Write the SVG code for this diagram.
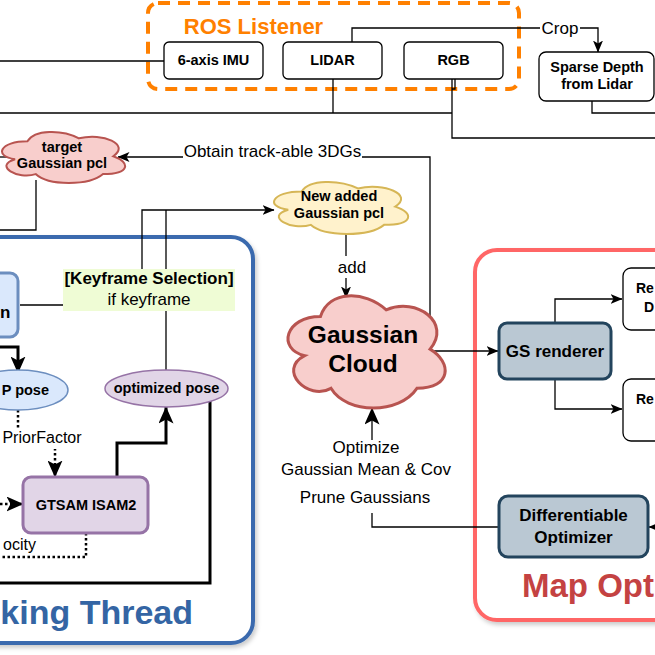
<svg xmlns="http://www.w3.org/2000/svg" width="655" height="655" viewBox="0 0 655 655">
<style>
  .t{font-family:"Liberation Sans",Arial,sans-serif;}
  .b{font-family:"Liberation Sans",Arial,sans-serif;font-weight:bold;}
  .ln{fill:none;stroke:#000;stroke-width:1.3;}
  .thick{fill:none;stroke:#000;stroke-width:3;}
  .dot{fill:none;stroke:#000;stroke-width:2.5;stroke-dasharray:2.5 2.5;}
  .box{fill:#fff;stroke:#000;stroke-width:1.3;}
  .cloudp{vector-effect:non-scaling-stroke;}
</style>
<defs>
  <marker id="a" markerUnits="userSpaceOnUse" markerWidth="12" markerHeight="10" refX="11.5" refY="5" orient="auto">
    <path d="M0,0 L12,5 L0,10 L3,5 Z" fill="#000"/>
  </marker>
  <marker id="A" markerUnits="userSpaceOnUse" markerWidth="17" markerHeight="15" refX="16.5" refY="7.5" orient="auto">
    <path d="M0,0 L17,7.5 L0,15 L4,7.5 Z" fill="#000"/>
  </marker>
  <filter id="sh" x="-10%" y="-10%" width="130%" height="130%">
    <feDropShadow dx="2" dy="3" stdDeviation="2" flood-color="#000" flood-opacity="0.2"/>
  </filter>
</defs>
<rect width="655" height="655" fill="#fff"/>

<!-- containers -->
<g id="tracking-thread">
  <rect x="-30" y="237" width="283" height="406" rx="22" fill="#fff" stroke="#3b6bae" stroke-width="4" filter="url(#sh)"/>
  <text class="b" x="193" y="624" font-size="34" fill="#3465a4" text-anchor="end">king Thread</text>
</g>
<g id="map-opt">
  <rect x="475" y="250" width="240" height="370" rx="22" fill="#fff" stroke="#ff6666" stroke-width="4" filter="url(#sh)"/>
  <text class="b" x="522" y="597" font-size="33" fill="#c44242">Map Opt</text>
</g>
<g id="ros-listener">
  <rect x="148" y="3" width="371" height="86" rx="10" fill="none" stroke="#ff8000" stroke-width="4" stroke-dasharray="12 8"/>
  <text class="b" x="253.5" y="34" font-size="22" fill="#ff8000" text-anchor="middle">ROS Listener</text>
</g>

<!-- connectors -->
<g id="connectors">
  <path class="ln" d="M0,61 H164"/>
  <path class="ln" d="M0,113 H452"/>
  <path class="ln" d="M333,79 V113"/>
  <path class="ln" d="M452,79 V138 H655"/>
  <path class="ln" d="M455,79 V89 H452"/>
  <path class="ln" d="M592,101 V113 H655"/>
  <path class="ln" d="M352,42 V28 H598 V52" marker-end="url(#a)"/>
  <path class="ln" d="M0,157 H8"/>
  <path class="ln" d="M36,180 V230 H0"/>
  <path class="ln" d="M430,318 V157 H118" marker-end="url(#a)"/>
  <path class="ln" d="M20,305 H63"/>
  <path class="ln" d="M142,270 V210 H274" marker-end="url(#a)"/>
  <path class="ln" d="M166,370 V210"/>
  <path class="ln" d="M346,234 V298" marker-end="url(#a)"/>
  <path class="ln" d="M433,351 H498" marker-end="url(#a)"/>
  <path class="ln" d="M555,323 V299 H622" marker-end="url(#a)"/>
  <path class="ln" d="M555,379 V409 H622" marker-end="url(#a)"/>
  <path class="ln" d="M660,527 H649" marker-end="url(#a)"/>
  <path class="ln" d="M499,527 H372 V513"/>
  <path class="ln" d="M372,440 V408" marker-end="url(#A)"/>
  <path class="thick" d="M0,347 H18 V373" marker-end="url(#A)"/>
  <path class="dot" d="M18,410 V438 H55 V477" marker-end="url(#A)"/>
  <path class="dot" d="M0,504 H23" marker-end="url(#A)"/>
  <path class="dot" d="M86,533 V557 H0"/>
  <path class="thick" d="M117,477 V443 H166 V407" marker-end="url(#A)"/>
  <path class="thick" d="M210,401 V583 H0"/>
  <!-- labels on connectors -->
  <rect x="540" y="19" width="40" height="18" fill="#fff"/>
  <text class="t" x="560" y="34" font-size="17" text-anchor="middle">Crop</text>
  <rect x="183" y="142" width="179" height="20" fill="#fff"/>
  <text class="t" x="272.5" y="157" font-size="17" text-anchor="middle">Obtain track-able 3DGs</text>
  <rect x="335" y="256" width="35" height="22" fill="#fff"/>
  <text class="t" x="352" y="273" font-size="17" text-anchor="middle">add</text>
  <rect x="63" y="269" width="172" height="42" fill="#effcd5"/>
  <text class="b" x="149" y="284" font-size="17" text-anchor="middle">[Keyframe Selection]</text>
  <text class="t" x="149" y="305" font-size="17" text-anchor="middle">if keyframe</text>
  <rect x="3" y="428" width="79" height="21" fill="#fff"/>
  <text class="t" x="42" y="443" font-size="16" text-anchor="middle">PriorFactor</text>
  <text class="t" x="36" y="550" font-size="16" text-anchor="end">ocity</text>
  <text class="t" x="366" y="453" font-size="17" text-anchor="middle">Optimize</text>
  <text class="t" x="366" y="475" font-size="17" text-anchor="middle">Gaussian Mean &amp; Cov</text>
  <text class="t" x="365" y="503" font-size="17" text-anchor="middle">Prune Gaussians</text>
</g>

<!-- nodes -->
<g id="imu">
  <rect class="box" x="164" y="42" width="99" height="37" rx="5"/>
  <text class="b" x="213.5" y="65" font-size="14.5" text-anchor="middle">6-axis IMU</text>
</g>
<g id="lidar">
  <rect class="box" x="283" y="42" width="99" height="37" rx="5"/>
  <text class="b" x="332.5" y="65" font-size="14.5" text-anchor="middle">LIDAR</text>
</g>
<g id="rgb">
  <rect class="box" x="404" y="42" width="99" height="37" rx="5"/>
  <text class="b" x="453.5" y="65" font-size="14.5" text-anchor="middle">RGB</text>
</g>
<g id="sparse-depth">
  <rect class="box" x="539" y="52" width="115" height="49" rx="7"/>
  <text class="b" x="597" y="72" font-size="14.5" text-anchor="middle">Sparse Depth</text>
  <text class="b" x="597" y="89" font-size="14.5" text-anchor="middle">from Lidar</text>
</g>
<g id="target-pcl">
  <path class="cloudp" transform="translate(-6.9,126.4) scale(1.374,0.596)" d="M25 25 C5 25 0 50 16 55 C0 66 18 90 31 80 C40 100 70 100 80 80 C100 80 100 60 87.5 50 C100 30 80 10 62.5 20 C50 5 30 5 25 25 Z" fill="#f8cecc" stroke="#b85450" stroke-width="2"/>
  <text class="b" x="62" y="152" font-size="14.5" text-anchor="middle">target</text>
  <text class="b" x="62" y="168" font-size="14.5" text-anchor="middle">Gaussian pcl</text>
</g>
<g id="new-pcl">
  <path class="cloudp" transform="translate(264.3,176.3) scale(1.497,0.607)" d="M25 25 C5 25 0 50 16 55 C0 66 18 90 31 80 C40 100 70 100 80 80 C100 80 100 60 87.5 50 C100 30 80 10 62.5 20 C50 5 30 5 25 25 Z" fill="#fff2cc" stroke="#d6b656" stroke-width="2"/>
  <text class="b" x="339" y="201" font-size="14.5" text-anchor="middle">New added</text>
  <text class="b" x="339" y="218" font-size="14.5" text-anchor="middle">Gaussian pcl</text>
</g>
<g id="gaussian-cloud">
  <path class="cloudp" transform="translate(276.6,283.7) scale(1.754,1.308)" d="M25 25 C5 25 0 50 16 55 C0 66 18 90 31 80 C40 100 70 100 80 80 C100 80 100 60 87.5 50 C100 30 80 10 62.5 20 C50 5 30 5 25 25 Z" fill="#f8cecc" stroke="#b85450" stroke-width="3"/>
  <text class="b" x="363" y="343" font-size="24.5" text-anchor="middle">Gaussian</text>
  <text class="b" x="363" y="372" font-size="24.5" text-anchor="middle">Cloud</text>
</g>
<g id="left-node">
  <rect x="-30" y="273" width="48" height="64" rx="8" fill="#dae8fc" stroke="#6c8ebf" stroke-width="3"/>
  <text class="b" x="0" y="318" font-size="17">n</text>
</g>
<g id="icp-pose">
  <ellipse cx="18" cy="390" rx="50" ry="20" fill="#dae8fc" stroke="#6c8ebf" stroke-width="1.5"/>
  <text class="b" x="49" y="395" font-size="14.5" text-anchor="end">P pose</text>
</g>
<g id="optimized-pose">
  <ellipse cx="166.5" cy="388.5" rx="61.5" ry="18.5" fill="#e1d5e7" stroke="#9673a6" stroke-width="1.5"/>
  <text class="b" x="166.5" y="393" font-size="14.5" text-anchor="middle">optimized pose</text>
</g>
<g id="gtsam">
  <rect x="23" y="477" width="125" height="56" rx="8" fill="#e1d5e7" stroke="#9673a6" stroke-width="3"/>
  <text class="b" x="86" y="510" font-size="14.5" text-anchor="middle">GTSAM ISAM2</text>
</g>
<g id="gs-renderer">
  <rect x="499" y="323" width="112" height="56" rx="8" fill="#bac8d3" stroke="#23445d" stroke-width="3"/>
  <text class="b" x="555" y="357" font-size="17" text-anchor="middle">GS renderer</text>
</g>
<g id="diff-optimizer">
  <rect x="499" y="496" width="149" height="61" rx="9" fill="#bac8d3" stroke="#23445d" stroke-width="3"/>
  <text class="b" x="573.5" y="521" font-size="17" text-anchor="middle">Differentiable</text>
  <text class="b" x="573.5" y="543" font-size="17" text-anchor="middle">Optimizer</text>
</g>
<g id="render-1">
  <rect class="box" x="623" y="268" width="60" height="62" rx="8"/>
  <text class="b" x="636" y="293" font-size="14">Re</text>
  <text class="b" x="644" y="312" font-size="14">D</text>
</g>
<g id="render-2">
  <rect class="box" x="623" y="379" width="60" height="62" rx="8"/>
  <text class="b" x="636" y="404" font-size="14">Re</text>
</g>
</svg>
